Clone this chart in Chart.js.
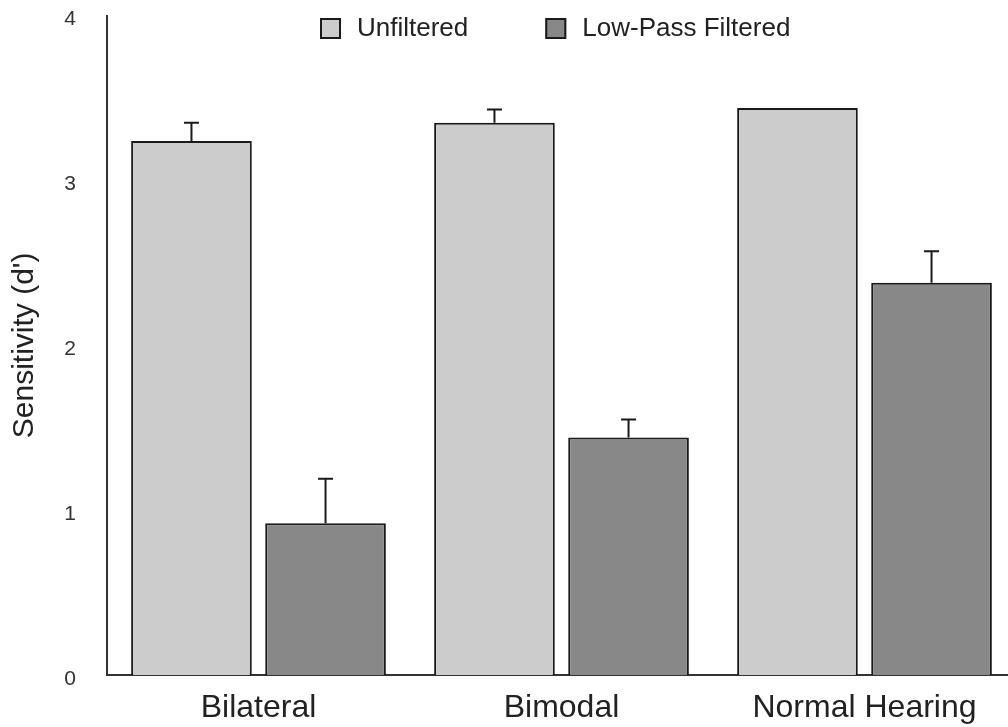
<!DOCTYPE html>
<html>
<head>
<meta charset="utf-8">
<script src="https://cdn.jsdelivr.net/npm/chart.js@4.4.0/dist/chart.umd.min.js"></script>
<style>
  html, body { margin: 0; padding: 0; background: #fff; overflow: hidden; }
  /* plot runs a little past the right edge and the top label room sits above the page, like the source figure */
  #wrap { position: absolute; left: 0; top: -28px; width: 1016px; height: 755px; }
</style>
</head>
<body>
<div id="wrap"><canvas id="sensChart"></canvas></div>
<script>
// data
const groups = ["Bilateral", "Bimodal", "Normal Hearing"];
const seriesNames = ["Unfiltered", "Low-Pass Filtered"];
const unfiltered = [3.24, 3.35, 3.44];
const lowPass = [0.92, 1.44, 2.38];
const unfilteredErr = [0.11, 0.08, 0];
const lowPassErr = [0.27, 0.11, 0.19];
const yTicks = [0, 1, 2, 3, 4];

const FONT = "'Liberation Sans', Arial, Helvetica, sans-serif";
const TOP_SHIFT = 28;

// draws upward-only error bars on top of each bar
const errorBars = {
  id: "errorBars",
  afterDatasetsDraw(chart) {
    const ctx = chart.ctx;
    const yScale = chart.scales.y;
    chart.data.datasets.forEach((ds, i) => {
      const meta = chart.getDatasetMeta(i);
      meta.data.forEach((bar, j) => {
        const err = ds.errors[j];
        if (!err) return;
        const yTop = yScale.getPixelForValue(ds.data[j] + err);
        const x = bar.x;
        ctx.save();
        ctx.strokeStyle = "#1a1a1a";
        ctx.lineWidth = 2;
        ctx.beginPath();
        ctx.moveTo(x, bar.y);
        ctx.lineTo(x, yTop);
        ctx.moveTo(x - 7.5, yTop);
        ctx.lineTo(x + 7.5, yTop);
        ctx.stroke();
        ctx.restore();
      });
    });
  }
};

// legend sits inside the plot area, so draw it by hand
const innerLegend = {
  id: "innerLegend",
  afterDraw(chart) {
    const ctx = chart.ctx;
    let x = 320;
    const y = 18 + TOP_SHIFT;
    ctx.save();
    ctx.font = "26px " + FONT;
    ctx.textBaseline = "middle";
    chart.data.datasets.forEach((ds) => {
      ctx.fillStyle = ds.backgroundColor;
      ctx.fillRect(x, y, 21, 21);
      ctx.strokeStyle = "#1a1a1a";
      ctx.lineWidth = 2;
      ctx.strokeRect(x + 1, y + 1, 19, 19);
      ctx.fillStyle = "#222";
      ctx.fillText(ds.label, x + 37, y + 11);
      x += 37 + ctx.measureText(ds.label).width + 77;
    });
    ctx.restore();
  }
};

new Chart(document.getElementById("sensChart"), {
  type: "bar",
  data: {
    labels: groups,
    datasets: [
      {
        label: seriesNames[0],
        data: unfiltered,
        errors: unfilteredErr,
        backgroundColor: "#cccccc",
        borderColor: "#1a1a1a",
        borderWidth: 2,
      },
      {
        label: seriesNames[1],
        data: lowPass,
        errors: lowPassErr,
        backgroundColor: "#888888",
        borderColor: "#1a1a1a",
        borderWidth: 2,
      },
    ],
  },
  options: {
    responsive: true,
    maintainAspectRatio: false,
    animation: false,
    categoryPercentage: 0.885,
    barPercentage: 0.9,
    layout: { padding: { top: 15, right: 0, bottom: 0, left: 0 } },
    plugins: {
      legend: { display: false },
      tooltip: { enabled: false },
    },
    scales: {
      x: {
        grid: { display: false, drawTicks: false },
        border: { color: "#333", width: 2 },
        ticks: {
          color: "#222",
          padding: 14,
          font: { family: FONT, size: 32 },
        },
        afterFit(scale) { scale.height = 52; },
      },
      y: {
        min: 0,
        max: 4,
        grid: { display: false, drawTicks: false },
        border: { color: "#333", width: 2 },
        afterBuildTicks(scale) {
          scale.ticks = yTicks.map((v) => ({ value: v }));
        },
        ticks: {
          color: "#333",
          padding: 31,
          labelOffset: 4,
          font: { family: FONT, size: 21 },
        },
        title: {
          display: true,
          text: "Sensitivity (d')",
          color: "#222",
          padding: { top: 7, bottom: 0 },
          font: { family: FONT, size: 30 },
        },
        afterFit(scale) { scale.width = 107; },
      },
    },
  },
  plugins: [errorBars, innerLegend],
});
</script>
</body>
</html>
